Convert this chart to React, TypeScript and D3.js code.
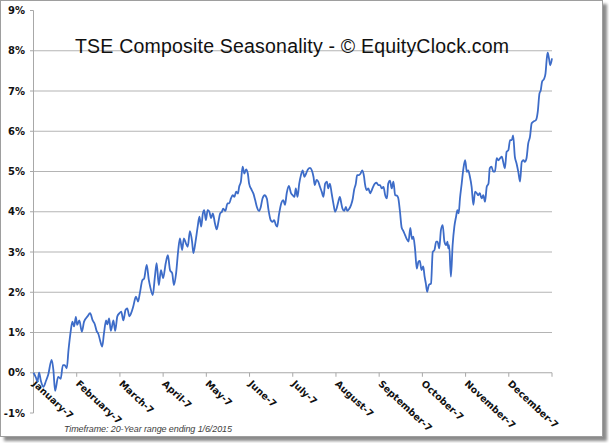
import React from "react";
import { scaleLinear, line, curveMonotoneX } from "d3";

// month labels, one per tick (the 13th tick closes the year)
const monthLabels = [
  "January-7", "February-7", "March-7", "April-7", "May-7", "June-7",
  "July-7", "August-7", "September-7", "October-7", "November-7", "December-7",
];

const yTicks = [-1, 0, 1, 2, 3, 4, 5, 6, 7, 8, 9];
const gridValues = [1, 2, 3, 4, 5, 6, 7, 8];

// position in months since Jan 7
const monthPos = [
  0, 0.06, 0.09, 0.13, 0.17, 0.23, 0.29, 0.34, 0.42, 0.46, 0.5, 0.57, 0.63, 0.68, 0.72, 0.77,
  0.81, 0.86, 0.9, 0.94, 0.98, 1.01, 1.06, 1.12, 1.17, 1.25, 1.31, 1.37, 1.42, 1.46, 1.5, 1.54,
  1.59, 1.63, 1.68, 1.71, 1.75, 1.79, 1.85, 1.89, 1.94, 1.99, 2.03, 2.08, 2.13, 2.17, 2.22, 2.26,
  2.31, 2.37, 2.42, 2.46, 2.52, 2.56, 2.62, 2.67, 2.7, 2.76, 2.81, 2.85, 2.9, 2.95, 3.0, 3.06,
  3.11, 3.16, 3.21, 3.25, 3.3, 3.35, 3.39, 3.44, 3.48, 3.53, 3.57, 3.62, 3.67, 3.7, 3.75, 3.8,
  3.84, 3.88, 3.92, 3.95, 3.99, 4.03, 4.07, 4.11, 4.15, 4.2, 4.24, 4.28, 4.32, 4.36, 4.39, 4.44,
  4.49, 4.53, 4.57, 4.61, 4.65, 4.69, 4.73, 4.76, 4.8, 4.84, 4.88, 4.92, 4.96, 4.99, 5.05, 5.09,
  5.13, 5.17, 5.22, 5.26, 5.3, 5.35, 5.4, 5.44, 5.49, 5.53, 5.57, 5.61, 5.64, 5.68, 5.74, 5.78,
  5.82, 5.86, 5.91, 5.96, 6.0, 6.04, 6.07, 6.11, 6.15, 6.19, 6.23, 6.27, 6.31, 6.35, 6.4, 6.44,
  6.48, 6.51, 6.55, 6.59, 6.63, 6.67, 6.71, 6.75, 6.79, 6.82, 6.86, 6.9, 6.94, 6.98, 7.02, 7.05,
  7.09, 7.12, 7.15, 7.19, 7.23, 7.26, 7.3, 7.35, 7.39, 7.42, 7.46, 7.49, 7.53, 7.57, 7.61, 7.65,
  7.67, 7.71, 7.75, 7.79, 7.83, 7.86, 7.9, 7.94, 7.98, 8.02, 8.06, 8.1, 8.14, 8.18, 8.21, 8.25,
  8.29, 8.33, 8.37, 8.41, 8.44, 8.48, 8.52, 8.56, 8.6, 8.64, 8.68, 8.72, 8.76, 8.79, 8.83, 8.87,
  8.91, 8.94, 8.98, 9.02, 9.05, 9.08, 9.11, 9.15, 9.2, 9.24, 9.28, 9.32, 9.35, 9.39, 9.43, 9.47,
  9.51, 9.55, 9.58, 9.6, 9.62, 9.66, 9.7, 9.74, 9.78, 9.81, 9.84, 9.87, 9.91, 9.95, 9.99, 10.03,
  10.06, 10.1, 10.14, 10.18, 10.22, 10.26, 10.29, 10.33, 10.37, 10.41, 10.45, 10.49, 10.53, 10.56, 10.6, 10.64,
  10.68, 10.72, 10.76, 10.8, 10.84, 10.87, 10.91, 10.95, 10.99, 11.03, 11.07, 11.1, 11.14, 11.18, 11.22, 11.26,
  11.3, 11.34, 11.37, 11.41, 11.45, 11.49, 11.53, 11.57, 11.63, 11.67, 11.71, 11.74, 11.77, 11.82, 11.85, 11.88,
  11.9, 11.93, 11.96, 12.0,
];

// seasonal return in %
const seasonal = [
  0, -0.13, -0.22, 0.0, -0.2, -0.35, -0.2, -0.05, 0.32, 0.07, -0.45, -0.1, -0.15, 0.19, 0.19, 0.11,
  0.56, 1.02, 1.27, 1.15, 1.39, 1.19, 1.3, 1.02, 1.27, 1.4, 1.48, 1.3, 1.2, 1.04, 0.97, 0.81,
  0.65, 0.97, 1.3, 1.2, 1.35, 1.04, 1.3, 1.04, 1.4, 1.48, 1.52, 1.3, 1.56, 1.6, 1.4, 1.48,
  1.65, 1.89, 1.77, 1.97, 2.3, 2.34, 2.68, 2.3, 2.14, 1.93, 2.39, 2.72, 2.18, 2.55, 2.35, 2.72,
  2.92, 2.55, 2.47, 2.18, 2.47, 3.05, 3.34, 3.05, 3.34, 3.21, 3.13, 3.52, 3.26, 2.97, 3.26, 3.63,
  3.88, 3.63, 3.96, 4.04, 3.79, 4.04, 4.0, 3.84, 3.96, 3.71, 3.56, 3.75, 3.96, 4.0, 4.08, 4.02,
  4.21, 4.21, 4.33, 4.41, 4.37, 4.5, 4.45, 4.62, 4.75, 5.12, 4.95, 5.05, 4.95, 4.7, 4.54, 4.45,
  4.29, 4.12, 4.02, 4.12, 4.33, 4.41, 4.33, 4.04, 3.79, 3.75, 3.79, 3.67, 3.63, 3.92, 4.23, 4.29,
  4.17, 4.46, 4.64, 4.46, 4.41, 4.37, 4.58, 4.37, 4.7, 4.91, 5.03, 4.87, 4.95, 5.05, 5.09, 5.03,
  4.87, 4.66, 4.79, 4.75, 4.62, 4.5, 4.37, 4.7, 4.75, 4.58, 4.7, 4.46, 4.21, 4.0, 4.1, 4.23,
  4.37, 4.23, 4.08, 4.02, 4.12, 4.02, 4.06, 4.17, 4.33, 4.54, 4.7, 4.91, 4.91, 4.95, 5.03, 4.87,
  4.7, 4.54, 4.58, 4.46, 4.54, 4.62, 4.7, 4.72, 4.66, 4.66, 4.58, 4.62, 4.41, 4.33, 4.7, 4.77,
  4.58, 4.75, 4.41, 4.4, 4.35, 4.02, 3.61, 3.52, 3.42, 3.32, 3.26, 3.6, 3.32, 3.38, 3.08, 2.59,
  2.76, 2.78, 2.55, 2.64, 2.4, 2.22, 2.01, 2.18, 2.22, 3.0, 3.05, 3.26, 3.26, 3.09, 3.55, 3.67,
  3.26, 3.17, 3.26, 3.09, 3.17, 2.39, 3.17, 3.63, 3.88, 4.04, 3.96, 4.33, 4.7, 5.08, 5.28, 4.99,
  5.03, 4.87, 4.62, 4.17, 4.5, 4.46, 4.41, 4.46, 4.33, 4.41, 4.25, 4.62, 4.7, 5.08, 5.12, 5.0,
  5.0, 5.33, 5.28, 5.33, 5.37, 5.24, 5.08, 5.49, 5.53, 5.78, 5.78, 5.9, 5.37, 5.2, 4.99, 4.75,
  5.24, 5.28, 5.24, 5.33, 5.7, 5.86, 6.2, 6.24, 6.28, 6.48, 6.94, 7.02, 7.23, 7.31, 7.44, 7.81,
  7.95, 7.81, 7.64, 7.81,
];

const W = 609;
const H = 443;
const axisFont = "'DejaVu Sans', Verdana, sans-serif";

const App: React.FC = () => {
  const x = scaleLinear().domain([0, 12]).range([33.5, 552]);
  const y = scaleLinear().domain([-1, 9]).range([413, 10.5]);

  const pts = monthPos.map((m, i) => [m, seasonal[i]] as [number, number]);
  const path = line<[number, number]>()
    .x((d) => x(d[0]))
    .y((d) => y(d[1]))
    .curve(curveMonotoneX)(pts);

  const monthTicks = monthLabels.map((_, i) => i).concat([12]);

  return (
    <svg
      width={W}
      height={H}
      style={{ position: "absolute", left: 0, top: 0 }}
    >
      <defs>
        <filter id="shadow" x="-5%" y="-5%" width="110%" height="110%">
          <feGaussianBlur stdDeviation="1.6" />
        </filter>
      </defs>
      {/* frame with drop shadow */}
      <rect x={4} y={4} width={603} height={437} fill="#8a8a8a" filter="url(#shadow)" />
      <rect x={0.5} y={0.5} width={602} height={436} fill="#fff" stroke="#9e9e9e" />

      {/* gridlines */}
      {gridValues.map((v) => (
        <line key={`g${v}`} x1={33.5} x2={552} y1={y(v)} y2={y(v)} stroke="#b4b4b4" strokeWidth={1.2} />
      ))}

      {/* y axis */}
      <line x1={33.5} x2={33.5} y1={y(9)} y2={y(-1)} stroke="#a8a8a8" />
      {yTicks.map((v) => (
        <g key={`y${v}`}>
          <line x1={30} x2={33.5} y1={y(v)} y2={y(v)} stroke="#a8a8a8" />
          <text
            x={25}
            y={y(v)}
            dy="0.36em"
            textAnchor="end"
            fontFamily={axisFont}
            fontWeight="bold"
            fontSize={10}
            fill="#111"
          >
            {v}%
          </text>
        </g>
      ))}

      {/* x axis at 0% */}
      <line x1={33.5} x2={552} y1={y(0)} y2={y(0)} stroke="#a8a8a8" strokeWidth={1.2} />
      {monthTicks.map((i) => (
        <line key={`t${i}`} x1={x(i)} x2={x(i)} y1={y(0)} y2={y(0) + 4} stroke="#a8a8a8" />
      ))}
      {monthLabels.map((lab, i) => (
        <text
          key={lab}
          transform={`translate(${x(i) + 3},${y(0) + 7}) rotate(43)`}
          dy="0.7em"
          fontFamily={axisFont}
          fontWeight="bold"
          fontSize={9.5}
          fill="#111"
        >
          {lab}
        </text>
      ))}

      {/* series */}
      <path d={path ?? ""} fill="none" stroke="#3d6cc8" strokeWidth={1.8} strokeLinejoin="round" />

      {/* title */}
      <text
        x={292}
        y={53}
        textAnchor="middle"
        fontFamily="'Liberation Sans', Arial, sans-serif"
        fontSize={19.5}
        textLength={434}
        fill="#111"
      >
        TSE Composite Seasonality - © EquityClock.com
      </text>

      <text
        x={64}
        y={432}
        fontFamily="'Liberation Sans', Arial, sans-serif"
        fontStyle="italic"
        fontSize={9}
        textLength={168}
        fill="#404040"
      >
        Timeframe: 20-Year range ending 1/6/2015
      </text>
    </svg>
  );
};

export default App;
